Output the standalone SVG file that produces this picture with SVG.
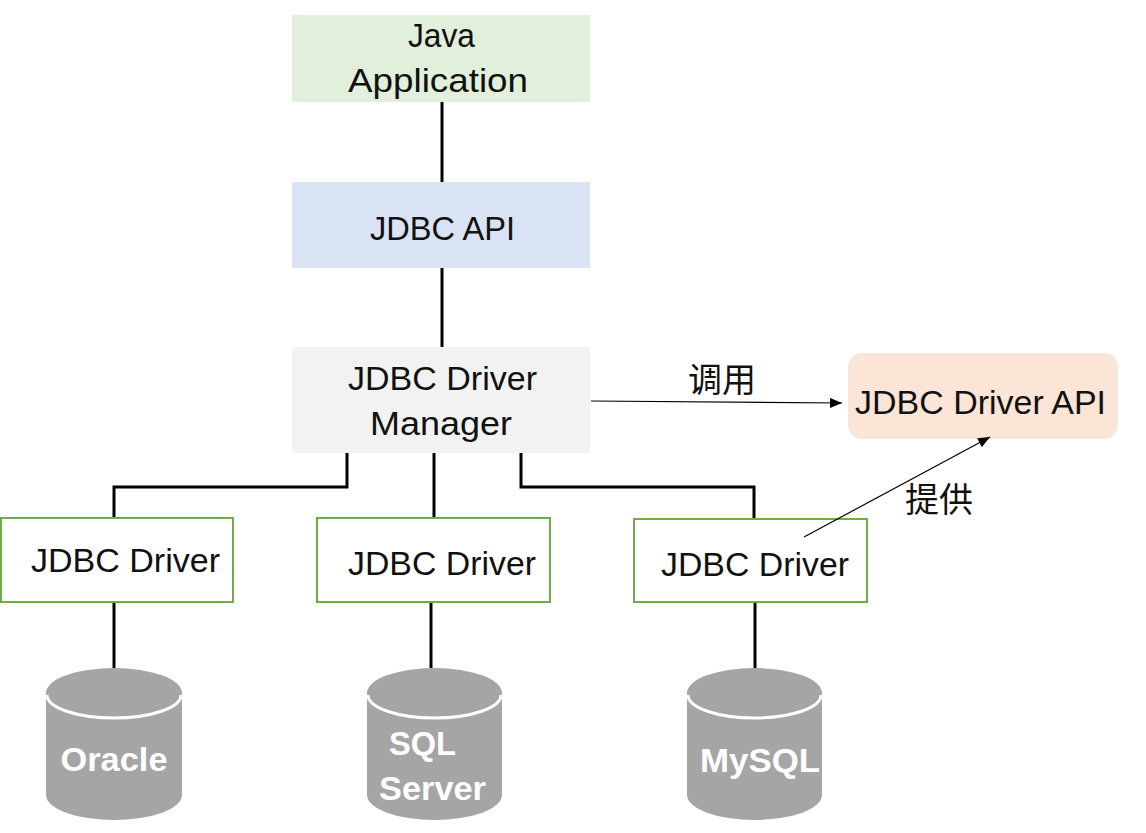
<svg xmlns="http://www.w3.org/2000/svg" width="1146" height="833" viewBox="0 0 1146 833">
<style>
.t{font-family:"Liberation Sans","Noto Sans CJK SC",sans-serif;font-size:33px;fill:#111;}
.c{font-family:"Noto Sans CJK SC","Liberation Sans",sans-serif;font-size:34px;fill:#111;}
.db{font-family:"Liberation Sans",Arial,sans-serif;font-size:34px;font-weight:bold;fill:#fff;}
.drv{fill:#fff;stroke:#70ad47;stroke-width:2;}
.cyl{fill:#a5a5a5;}
.rim{fill:none;stroke:#fff;stroke-width:3;}
.tree{fill:none;stroke:#000;stroke-width:3;}
.thin{fill:none;stroke:#000;stroke-width:1.2;}
</style>
<defs>
<marker id="ah" markerWidth="12" markerHeight="10" refX="12" refY="5" orient="auto" markerUnits="userSpaceOnUse">
<path d="M0,0 L12,5 L0,10 Z" fill="#000"/>
</marker>
</defs>
<rect width="1146" height="833" fill="#fff"/>

<g id="java-app">
<rect x="292" y="15" width="298" height="87" fill="#e2efda"/>
<text class="t" x="441.5" y="47" text-anchor="middle" textLength="67" lengthAdjust="spacingAndGlyphs">Java</text>
<text class="t" x="438" y="92" text-anchor="middle" textLength="180" lengthAdjust="spacingAndGlyphs">Application</text>
</g>

<g id="jdbc-api">
<rect x="292" y="182" width="298" height="86" fill="#dae3f3"/>
<text class="t" x="442.5" y="240" text-anchor="middle" textLength="145" lengthAdjust="spacingAndGlyphs">JDBC API</text>
</g>

<g id="driver-manager">
<rect x="292" y="347" width="298" height="106" fill="#f2f2f2"/>
<text class="t" x="442.5" y="390" text-anchor="middle" textLength="189" lengthAdjust="spacingAndGlyphs">JDBC Driver</text>
<text class="t" x="441" y="435" text-anchor="middle" textLength="142" lengthAdjust="spacingAndGlyphs">Manager</text>
</g>

<g id="driver-api">
<rect x="848" y="353" width="270" height="86" rx="14" fill="#fbe5d6"/>
<text class="t" x="980.5" y="414" text-anchor="middle" textLength="251" lengthAdjust="spacingAndGlyphs">JDBC Driver API</text>
</g>

<g id="driver-1">
<rect class="drv" x="1" y="518" width="232" height="84"/>
<text class="t" x="125.5" y="572" text-anchor="middle" textLength="189" lengthAdjust="spacingAndGlyphs">JDBC Driver</text>
</g>

<g id="driver-2">
<rect class="drv" x="317" y="518" width="233" height="84"/>
<text class="t" x="442" y="575" text-anchor="middle" textLength="188" lengthAdjust="spacingAndGlyphs">JDBC Driver</text>
</g>

<g id="driver-3">
<rect class="drv" x="634" y="519" width="233" height="83"/>
<text class="t" x="755" y="576" text-anchor="middle" textLength="188" lengthAdjust="spacingAndGlyphs">JDBC Driver</text>
</g>

<g id="oracle">
<path class="cyl" d="M46,693 A68,25 0 0 1 182,693 V795 A68,25 0 0 1 46,795 Z"/>
<path class="rim" d="M47,695 A67,23 0 0 0 181,695"/>
<text class="db" x="114" y="771" text-anchor="middle" textLength="107" lengthAdjust="spacingAndGlyphs">Oracle</text>
</g>

<g id="sqlserver">
<path class="cyl" d="M367,693 A67.5,25 0 0 1 502,693 V795 A67.5,25 0 0 1 367,795 Z"/>
<path class="rim" d="M368,695 A66.5,23 0 0 0 501,695"/>
<text class="db" x="389" y="755" textLength="67" lengthAdjust="spacingAndGlyphs">SQL</text>
<text class="db" x="379" y="800" textLength="107" lengthAdjust="spacingAndGlyphs">Server</text>
</g>

<g id="mysql">
<path class="cyl" d="M687,693 A67.5,25 0 0 1 822,693 V795 A67.5,25 0 0 1 687,795 Z"/>
<path class="rim" d="M688,695 A66.5,23 0 0 0 821,695"/>
<text class="db" x="760" y="772" text-anchor="middle" textLength="120" lengthAdjust="spacingAndGlyphs">MySQL</text>
</g>

<g id="connectors">
<line class="tree" x1="442" y1="102" x2="442" y2="182"/>
<line class="tree" x1="442" y1="268" x2="442" y2="347"/>
<polyline class="tree" points="347,453 347,487 114,487 114,517"/>
<line class="tree" x1="434" y1="453" x2="434" y2="517"/>
<polyline class="tree" points="521,453 521,487 754,487 754,518"/>
<line class="tree" x1="114" y1="603" x2="114" y2="668"/>
<line class="tree" x1="431" y1="603" x2="431" y2="668"/>
<line class="tree" x1="755" y1="603" x2="755" y2="668"/>
<line class="thin" x1="591" y1="401" x2="842" y2="403" marker-end="url(#ah)"/>
<line class="thin" x1="804" y1="537" x2="990" y2="437" marker-end="url(#ah)"/>
<text class="c" x="688" y="392">调用</text>
<text class="c" x="905" y="512">提供</text>
</g>
</svg>
